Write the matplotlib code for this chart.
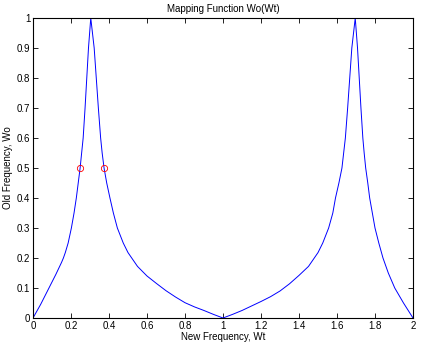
import matplotlib
matplotlib.use("Agg")
import matplotlib.pyplot as plt

# Curve (Wt, Wo)
wt = [0.0, 0.04, 0.08, 0.12, 0.15, 0.16, 0.17, 0.185, 0.202, 0.216, 0.228, 0.238, 0.248, 0.264, 0.274, 0.283, 0.292, 0.304,
      0.322, 0.333, 0.344, 0.356, 0.364, 0.374, 0.388, 0.405, 0.423, 0.444, 0.475, 0.5, 0.55, 0.6, 0.65, 0.7, 0.75, 0.8, 0.85, 0.9, 0.95, 1.0,
      1.05, 1.1, 1.15, 1.2, 1.25, 1.3, 1.35, 1.4, 1.45, 1.5, 1.525, 1.556, 1.578, 1.592, 1.61, 1.626, 1.644, 1.656, 1.667, 1.678, 1.696,
      1.708, 1.717, 1.726, 1.736, 1.743, 1.751, 1.762, 1.772, 1.786, 1.800, 1.82, 1.842, 1.87, 1.904, 1.95, 2.0]
wo = [0.0, 0.045, 0.095, 0.145, 0.185, 0.2, 0.218, 0.25, 0.3, 0.35, 0.4, 0.45, 0.5, 0.6, 0.7, 0.8, 0.9, 1.0,
      0.9, 0.8, 0.7, 0.6, 0.55, 0.5, 0.45, 0.4, 0.35, 0.3, 0.25, 0.218, 0.172, 0.14, 0.115, 0.091, 0.07, 0.051, 0.037, 0.025, 0.012, 0.0,
      0.012, 0.025, 0.04, 0.055, 0.071, 0.09, 0.114, 0.142, 0.172, 0.218, 0.25, 0.3, 0.35, 0.4, 0.45, 0.5, 0.6, 0.7, 0.8, 0.9, 1.0,
      0.9, 0.8, 0.7, 0.6, 0.55, 0.5, 0.45, 0.4, 0.35, 0.3, 0.25, 0.2, 0.15, 0.1, 0.05, 0.0]

# Marked points
mark_wt = [0.249, 0.375]
mark_wo = [0.5, 0.5]

xticks = [0, 0.2, 0.4, 0.6, 0.8, 1, 1.2, 1.4, 1.6, 1.8, 2]
xticklabels = ["0", "0.2", "0.4", "0.6", "0.8", "1", "1.2", "1.4", "1.6", "1.8", "2"]
yticks = [0, 0.1, 0.2, 0.3, 0.4, 0.5, 0.6, 0.7, 0.8, 0.9, 1]
yticklabels = ["0", "0.1", "0.2", "0.3", "0.4", "0.5", "0.6", "0.7", "0.8", "0.9", "1"]

plt.rcParams['font.family'] = ['Liberation Sans', 'DejaVu Sans']

W, H = 423, 347
fig = plt.figure(figsize=(W / 100, H / 100), dpi=100)
ax = fig.add_axes([33 / W, (H - 318) / H, (413 - 33) / W, (318 - 18) / H])

ax.plot(wt, wo, color=(0, 0, 1), lw=0.7)
ax.plot(mark_wt, mark_wo, linestyle='none', marker='o', markersize=4.5,
        markerfacecolor='none', markeredgecolor=(1, 0, 0), markeredgewidth=0.6)

ax.set_xlim(0, 2)
ax.set_ylim(0, 1)
ax.set_xticks(xticks)
ax.set_xticklabels(xticklabels)
ax.set_yticks(yticks)
ax.set_yticklabels(yticklabels)
ax.tick_params(direction='in', length=3.5, width=0.6, top=True, right=True,
               labelsize=7, pad=2)
for s in ax.spines.values():
    s.set_linewidth(0.8)

ax.set_title("Mapping Function Wo(Wt)", fontsize=7, pad=4)
ax.set_xlabel("New Frequency, Wt", fontsize=7, labelpad=1)
ax.set_ylabel("Old Frequency, Wo", fontsize=7, labelpad=3)

fig.savefig("out.png", dpi=100)
